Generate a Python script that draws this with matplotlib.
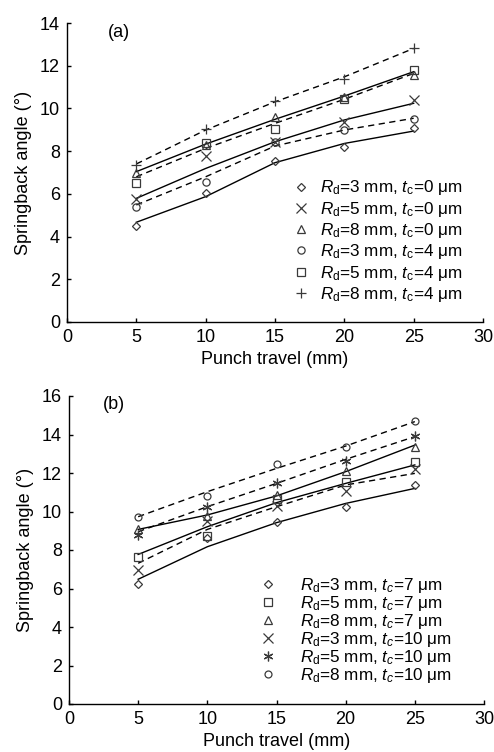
import matplotlib
matplotlib.use("Agg")
import matplotlib.pyplot as plt
from matplotlib.lines import Line2D

plt.rcParams['font.family'] = ['Liberation Sans', 'DejaVu Sans']
plt.rcParams['mathtext.fontset'] = 'custom'
plt.rcParams['mathtext.rm'] = 'Liberation Sans'
plt.rcParams['mathtext.it'] = 'Liberation Sans:italic'

# ---------------- data ----------------
travel = [5, 10, 15, 20, 25]

# panel (a): measured points
a_rd3_t0 = [4.50, 6.03, 7.54, 8.21, 9.07]
a_rd5_t0 = [5.74, 7.77, 8.41, 9.38, 10.39]
a_rd8_t0 = [6.96, 8.30, 9.58, 10.52, 11.56]
a_rd3_t4 = [5.37, 6.57, 8.44, 8.99, 9.49]
a_rd5_t4 = [6.49, 8.40, 9.02, 10.44, 11.80]
a_rd8_t4 = [7.35, 9.02, 10.35, 11.36, 12.81]
# panel (a): trend lines read at the same travels
a_fit_rd3_t0 = [4.67, 5.87, 7.46, 8.36, 8.94]
a_fit_rd5_t0 = [5.79, 7.19, 8.44, 9.46, 10.24]
a_fit_rd8_t0 = [7.04, 8.33, 9.49, 10.58, 11.72]
a_fit_rd3_t4 = [5.48, 6.80, 8.24, 8.99, 9.54]
a_fit_rd5_t4 = [6.80, 8.13, 9.30, 10.43, 11.64]
a_fit_rd8_t4 = [7.40, 8.99, 10.31, 11.48, 12.81]

# panel (b): measured points
b_rd3_t7 = [6.22, 8.60, 9.47, 10.22, 11.38]
b_rd5_t7 = [7.62, 8.75, 10.65, 11.55, 12.55]
b_rd8_t7 = [9.09, 9.75, 10.86, 12.12, 13.33]
b_rd3_t10 = [6.96, 9.51, 10.29, 11.08, 12.19]
b_rd5_t10 = [8.78, 10.25, 11.50, 12.64, 13.94]
b_rd8_t10 = [9.73, 10.82, 12.45, 13.33, 14.72]
# panel (b): trend lines
b_fit_rd3_t7 = [6.48, 8.17, 9.42, 10.42, 11.20]
b_fit_rd5_t7 = [7.77, 9.21, 10.46, 11.46, 12.42]
b_fit_rd8_t7 = [9.07, 9.82, 10.81, 12.07, 13.45]
b_fit_rd3_t10 = [7.31, 9.07, 10.25, 11.38, 11.98]
b_fit_rd5_t10 = [8.95, 10.25, 11.46, 12.71, 13.89]
b_fit_rd8_t10 = [9.73, 11.03, 12.24, 13.40, 14.67]

labels_a = [r'$R_{\rm d}$=3 mm, $t_{\rm c}$=0 μm',
            r'$R_{\rm d}$=5 mm, $t_{\rm c}$=0 μm',
            r'$R_{\rm d}$=8 mm, $t_{\rm c}$=0 μm',
            r'$R_{\rm d}$=3 mm, $t_{\rm c}$=4 μm',
            r'$R_{\rm d}$=5 mm, $t_{\rm c}$=4 μm',
            r'$R_{\rm d}$=8 mm, $t_{\rm c}$=4 μm']
labels_b = [r'$R_{\rm d}$=3 mm, $t_{c}$=7 μm',
            r'$R_{\rm d}$=5 mm, $t_{c}$=7 μm',
            r'$R_{\rm d}$=8 mm, $t_{c}$=7 μm',
            r'$R_{\rm d}$=3 mm, $t_{c}$=10 μm',
            r'$R_{\rm d}$=5 mm, $t_{c}$=10 μm',
            r'$R_{\rm d}$=8 mm, $t_{c}$=10 μm']

xticks = [0, 5, 10, 15, 20, 25, 30]
yticks_a = [0, 2, 4, 6, 8, 10, 12, 14]
yticks_b = [0, 2, 4, 6, 8, 10, 12, 14, 16]

# ---------------- style ----------------
MC = '#3a3a3a'
FS = 13
DASH = (0, (4.5, 3.2))

def style_axes(ax, yticks):
    for s in ['top', 'right']:
        ax.spines[s].set_visible(False)
    for s in ['left', 'bottom']:
        ax.spines[s].set_linewidth(1.0)
    ax.set_xlim(0, 30)
    ax.set_ylim(yticks[0], yticks[-1])
    ax.set_xticks(xticks)
    ax.set_yticks(yticks)
    ax.tick_params(direction='in', length=3, width=1, labelsize=FS, pad=5)
    ax.set_xlabel('Punch travel (mm)', fontsize=FS, labelpad=4)
    ax.set_ylabel('Springback angle (°)', fontsize=FS, labelpad=6)

def draw(ax, pts, fits, markers, sizes, styles, labels):
    handles = []
    for p, f, m, s, ls, lab in zip(pts, fits, markers, sizes, styles, labels):
        ax.plot(travel, f, color='black', lw=1.0, linestyle=ls, zorder=2)
        ax.plot(travel, p, linestyle='none', marker=m, markersize=s,
                markerfacecolor='none', markeredgecolor=MC, markeredgewidth=0.9,
                zorder=3)
        handles.append(Line2D([], [], linestyle='none', marker=m, markersize=s,
                              markerfacecolor='none', markeredgecolor=MC,
                              markeredgewidth=0.9, label=lab))
    return handles

fig = plt.figure(figsize=(4.94, 7.52), dpi=100)

# panel (a)
axa = fig.add_axes([67/494, 1-322/752, 416/494, 299/752])
style_axes(axa, yticks_a)
ha = draw(axa,
          [a_rd3_t0, a_rd5_t0, a_rd8_t0, a_rd3_t4, a_rd5_t4, a_rd8_t4],
          [a_fit_rd3_t0, a_fit_rd5_t0, a_fit_rd8_t0, a_fit_rd3_t4, a_fit_rd5_t4, a_fit_rd8_t4],
          ['D', 'x', '^', 'o', 's', '+'],
          [4.5, 6.5, 5.5, 5.2, 5.5, 7.5],
          ['-', '-', '-', DASH, DASH, DASH],
          labels_a)
axa.text(0.099, 0.967, '(a)', transform=axa.transAxes, fontsize=FS, va='center', ha='left')
axa.legend(handles=ha, loc='upper left', bbox_to_anchor=(0.542, 0.48), frameon=False,
           fontsize=12.3, handlelength=1.0, handletextpad=0.6, labelspacing=0.135,
           borderaxespad=0, borderpad=0)

# panel (b)
axb = fig.add_axes([69/494, 1-704/752, 415/494, 308/752])
style_axes(axb, yticks_b)
hb = draw(axb,
          [b_rd3_t7, b_rd5_t7, b_rd8_t7, b_rd3_t10, b_rd5_t10, b_rd8_t10],
          [b_fit_rd3_t7, b_fit_rd5_t7, b_fit_rd8_t7, b_fit_rd3_t10, b_fit_rd5_t10, b_fit_rd8_t10],
          ['D', 's', '^', 'x', (6, 2, 0), 'o'],
          [4.2, 5.2, 5.5, 6.5, 7.0, 5.0],
          ['-', '-', '-', DASH, DASH, DASH],
          labels_b)
axb.text(0.082, 0.971, '(b)', transform=axb.transAxes, fontsize=FS, va='center', ha='left')
axb.legend(handles=hb, loc='upper left', bbox_to_anchor=(0.46, 0.415), frameon=False,
           fontsize=12.3, handlelength=1.0, handletextpad=1.35, labelspacing=-0.06,
           borderaxespad=0, borderpad=0)

fig.savefig('out.png', dpi=100)
